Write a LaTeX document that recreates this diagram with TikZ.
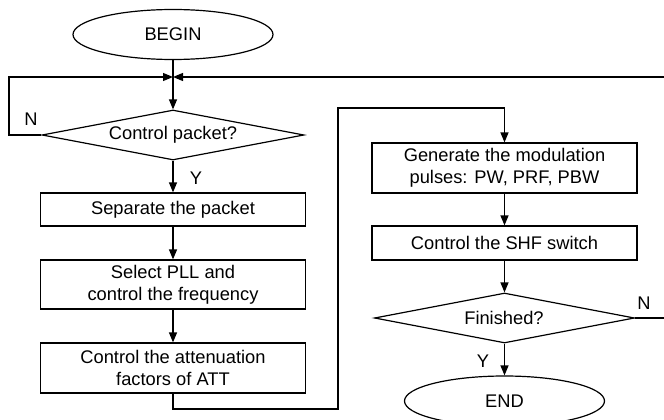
\documentclass[tikz,border=0pt]{standalone}
\usepackage{fontspec}
\setmainfont{Liberation Sans}
\usetikzlibrary{shapes.geometric,arrows.meta}
\begin{document}
\begin{tikzpicture}[x=1pt,y=-1pt,
  line width=1.2pt,
  every node/.style={font=\fontsize{18.3}{21.7}\selectfont, inner sep=0pt},
  flow/.style={-{Triangle[length=10pt,width=8pt]}},
  procbox/.style={draw, rectangle, minimum width=265pt, align=center},
  terminal/.style={draw, ellipse, minimum width=200pt, minimum height=50pt},
  decision/.style={draw, diamond, aspect=5.3, minimum width=262pt, minimum height=50pt}
]
\clip (0,0) rectangle (664,420);
\useasboundingbox (0,0) rectangle (664,420);

% left column
\node[terminal] (begin) at (173,34.5) {BEGIN};
\coordinate (join) at (173,77);
\node[decision] (pkt) at (173,135) {};
\node at (173,135) {Control packet?};
\node[procbox, minimum height=33pt] (sep) at (173,209.5) {Separate the packet};
\node[procbox, minimum height=49pt] (pll) at (173,284.5) {Select PLL and\\control the frequency};
\node[procbox, minimum height=50pt] (att) at (173,368) {Control the attenuation\\factors of ATT};

% right column
\node[procbox, minimum height=50pt] (gen) at (504.5,168) {Generate the modulation\\pulses: PW, PRF, PBW};
\node[procbox, minimum height=34pt] (shf) at (504.5,243) {Control the SHF switch};
\node[decision, minimum width=260pt] (fin) at (504.5,318) {};
\node at (504,318) {Finished?};
\node[terminal] (end) at (504.5,401) {END};

% free ends of the loops
\coordinate (lcorner) at (9,135);
\coordinate (ltop) at (9,77);
\coordinate (rtop) at (664,77);
\coordinate (rmid) at (664,318);
\coordinate (attdown) at (173,409);
\coordinate (mid1) at (338,409);
\coordinate (mid2) at (338,108);
\coordinate (gentop) at (504.5,108);

% connectors
\draw[flow] (begin.south) -- (pkt.north);
\draw[flow] (pkt.west) -- (lcorner) -- (ltop) -- (join);
\draw[flow] (rtop) -- (join);
\draw[flow] (pkt.south) -- (sep.north);
\draw[flow] (sep.south) -- (pll.north);
\draw[flow] (pll.south) -- (att.north);
\draw[flow] (att.south) -- (attdown) -- (mid1) -- (mid2) -- (gentop) -- (gen.north);
\draw[flow] (gen.south) -- (shf.north);
\draw[flow] (shf.south) -- (fin.north);
\draw[flow] (fin.south) -- (end.north);
\draw (fin.east) -- (rmid);

% branch labels
\node at (31,119) {N};
\node at (196,178) {Y};
\node at (483,361) {Y};
\node at (644,303) {N};
\end{tikzpicture}
\end{document}
